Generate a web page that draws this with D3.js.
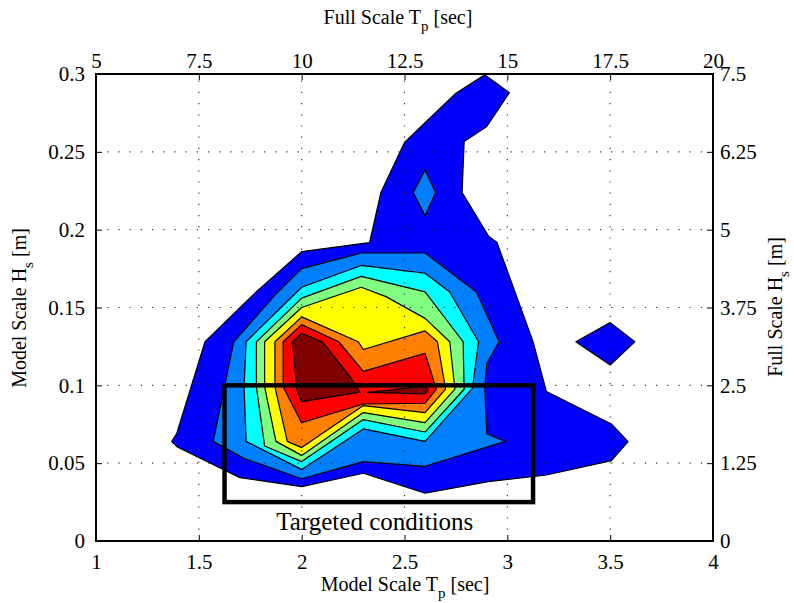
<!DOCTYPE html>
<html>
<head>
<meta charset="utf-8">
<script src="https://cdn.jsdelivr.net/npm/d3@7"></script>
<style>
  html, body { margin: 0; padding: 0; background: #fff; }
  svg { display: block; }
  text { font-family: "Liberation Serif", "Times New Roman", serif; fill: #000; }
</style>
</head>
<body>
<svg id="chart" width="794" height="603"></svg>
<script>
// Axis ticks: model scale (bottom/left) and full scale (top/right)
const tpTicks = [1, 1.5, 2, 2.5, 3, 3.5, 4];
const hsTicks = [0, 0.05, 0.1, 0.15, 0.2, 0.25, 0.3];
const fullTpTicks = ["5", "7.5", "10", "12.5", "15", "17.5", "20"];
const fullHsTicks = ["0", "1.25", "2.5", "3.75", "5", "6.25", "7.5"];

// Filled contour levels (jet colormap), lowest to highest
const levelColors = ["#0000ff", "#0080ff", "#00ffff", "#80ff80", "#ffff00", "#ff8000", "#ff0000", "#800000"];

// Contour outlines as [Tp (s), Hs (m)] vertices, model scale
const level1Main = [[2.89,0.2995],[3.01,0.288],[2.90,0.2663],[2.79,0.2566],[2.78,0.2238],[2.91,0.1956],[2.95,0.1917],[3.125,0.1281],[3.19,0.096],[3.506,0.0752],[3.587,0.0638],[3.506,0.0516],[3.19,0.0424],[2.907,0.0381],[2.60,0.0307],[2.30,0.0435],[2.00,0.0349],[1.70,0.0407],[1.393,0.0606],[1.368,0.0638],[1.393,0.0692],[1.53,0.1281],[1.78,0.1602],[2.00,0.1859],[2.33,0.1917],[2.385,0.2238],[2.50,0.2560],[2.61,0.270],[2.75,0.2877]];
const level1Island = [[3.333,0.128],[3.50,0.1403],[3.62,0.128],[3.50,0.1131]];
const level2Main = [[2.00,0.175],[2.29,0.185],[2.60,0.185],[2.85,0.160],[2.96,0.128],[2.90,0.114],[2.89,0.099],[2.90,0.069],[2.99,0.064],[2.60,0.048],[2.30,0.051],[2.00,0.040],[1.72,0.053],[1.57,0.064],[1.67,0.128],[1.87,0.158]];
const level2Island = [[2.60,0.2384],[2.542,0.2238],[2.60,0.2089],[2.651,0.2238]];
const level3 = [[2.00,0.163],[2.29,0.177],[2.60,0.172],[2.72,0.160],[2.86,0.128],[2.83,0.098],[2.60,0.064],[2.30,0.072],[2.00,0.046],[1.73,0.064],[1.72,0.099],[1.73,0.128]];
const level4 = [[2.00,0.156],[2.29,0.170],[2.60,0.160],[2.785,0.128],[2.79,0.0975],[2.60,0.070],[2.30,0.078],[2.00,0.051],[1.82,0.061],[1.78,0.099],[1.78,0.128]];
const level5 = [[2.00,0.150],[2.29,0.163],[2.41,0.157],[2.60,0.143],[2.72,0.128],[2.745,0.0975],[2.60,0.076],[2.30,0.0825],[2.00,0.055],[1.875,0.064],[1.82,0.099],[1.82,0.128]];
const level6 = [[2.00,0.144],[2.275,0.128],[2.30,0.123],[2.60,0.135],[2.66,0.128],[2.70,0.0975],[2.60,0.0825],[2.30,0.087],[2.00,0.060],[1.93,0.064],[1.87,0.099],[1.87,0.128]];
const level7 = [[2.00,0.139],[2.18,0.128],[2.30,0.109],[2.60,0.1206],[2.655,0.0975],[2.60,0.0885],[2.30,0.088],[2.00,0.076],[1.91,0.099],[1.91,0.128]];
const level8Main = [[2.00,0.1335],[2.10,0.128],[2.235,0.1056],[2.283,0.0956],[2.00,0.0895],[1.976,0.0975],[1.956,0.128]];
const level8Sliver = [[2.32,0.0955],[2.60,0.0995],[2.615,0.097],[2.60,0.0945]];

// Targeted test window
const targetTp = [1.625, 3.125];
const targetHs = [0.025, 0.1];
const targetLabel = "Targeted conditions";

const regions = [
  { level: 0, pts: level1Main }, { level: 0, pts: level1Island },
  { level: 1, pts: level2Main }, { level: 1, pts: level2Island },
  { level: 2, pts: level3 }, { level: 3, pts: level4 },
  { level: 4, pts: level5 }, { level: 5, pts: level6 },
  { level: 6, pts: level7 }, { level: 7, pts: level8Main },
  { level: 7, pts: level8Sliver }
];

const L = 96, R = 713, T = 74, B = 541;
const svg = d3.select("#chart");
const x = d3.scaleLinear().domain([1, 4]).range([L, R]);
const y = d3.scaleLinear().domain([0, 0.3]).range([B, T]);
const xTop = d3.scaleLinear().domain([5, 20]).range([L, R]);
const yRight = d3.scaleLinear().domain([0, 7.5]).range([B, T]);

const line = d3.line().x(d => x(d[0])).y(d => y(d[1])).curve(d3.curveLinearClosed);

// filled contours
svg.append("g").selectAll("path").data(regions).join("path")
  .attr("d", d => line(d.pts))
  .attr("fill", d => levelColors[d.level])
  .attr("stroke", "#000")
  .attr("stroke-width", 1.2)
  .attr("stroke-linejoin", "round");

// dotted grid
const grid = svg.append("g").attr("stroke", "#333").attr("stroke-width", 1.2).attr("stroke-dasharray", "1.2 10");
grid.selectAll("line.v").data(tpTicks.slice(1, -1)).join("line")
  .attr("x1", d => x(d)).attr("x2", d => x(d)).attr("y1", B).attr("y2", T);
grid.selectAll("line.h").data(hsTicks.slice(1, -1)).join("line")
  .attr("x1", L).attr("x2", R).attr("y1", d => y(d)).attr("y2", d => y(d));

// targeted conditions box
svg.append("rect")
  .attr("x", x(targetTp[0])).attr("y", y(targetHs[1]))
  .attr("width", x(targetTp[1]) - x(targetTp[0]))
  .attr("height", y(targetHs[0]) - y(targetHs[1]))
  .attr("fill", "none").attr("stroke", "#000").attr("stroke-width", 4.5);
svg.append("text")
  .attr("x", (x(targetTp[0]) + x(targetTp[1])) / 2 - 4)
  .attr("y", y(targetHs[0]) + 28)
  .attr("text-anchor", "middle")
  .style("font-size", "25px")
  .text(targetLabel);

// axes
function styleAxis(g) {
  g.select(".domain").remove();
  g.selectAll(".tick line").attr("stroke", "#000").attr("stroke-width", 1);
  g.selectAll(".tick text").style("font-size", "21px").style("font-family", "Liberation Serif, serif");
}
svg.append("g").attr("transform", `translate(0,${B})`)
  .call(d3.axisBottom(x).tickValues(tpTicks).tickFormat(d3.format("")).tickSizeInner(-6).tickSizeOuter(0).tickPadding(13))
  .call(styleAxis);
svg.append("g").attr("transform", `translate(0,${T})`)
  .call(d3.axisTop(xTop).tickValues(fullTpTicks.map(Number)).tickFormat((d, i) => fullTpTicks[i]).tickSizeInner(-6).tickSizeOuter(0).tickPadding(6))
  .call(styleAxis);
svg.append("g").attr("transform", `translate(${L},0)`)
  .call(d3.axisLeft(y).tickValues(hsTicks).tickFormat(d3.format("")).tickSizeInner(-6).tickSizeOuter(0).tickPadding(11))
  .call(styleAxis);
svg.append("g").attr("transform", `translate(${R},0)`)
  .call(d3.axisRight(yRight).tickValues(fullHsTicks.map(Number)).tickFormat((d, i) => fullHsTicks[i]).tickSizeInner(-6).tickSizeOuter(0).tickPadding(7))
  .call(styleAxis);

// plot box
svg.append("rect").attr("x", L).attr("y", T).attr("width", R - L).attr("height", B - T)
  .attr("fill", "none").attr("stroke", "#000").attr("stroke-width", 2);

// axis titles with subscripts
function title(sel, main, sub, rest) {
  sel.append("tspan").text(main);
  sel.append("tspan").attr("dy", 7).style("font-size", "15px").text(sub);
  sel.append("tspan").attr("dy", -7).text(rest);
}
svg.append("text").attr("x", 405).attr("y", 591).attr("text-anchor", "middle").style("font-size", "20px")
  .call(title, "Model Scale T", "p", " [sec]");
svg.append("text").attr("x", 398).attr("y", 24).attr("text-anchor", "middle").style("font-size", "20px")
  .call(title, "Full Scale T", "p", " [sec]");
svg.append("text").attr("transform", "translate(26,308) rotate(-90)").attr("text-anchor", "middle").style("font-size", "20px")
  .call(title, "Model Scale H", "s", " [m]");
svg.append("text").attr("transform", "translate(782,307) rotate(-90)").attr("text-anchor", "middle").style("font-size", "20px")
  .call(title, "Full Scale H", "s", " [m]");
</script>
</body>
</html>
